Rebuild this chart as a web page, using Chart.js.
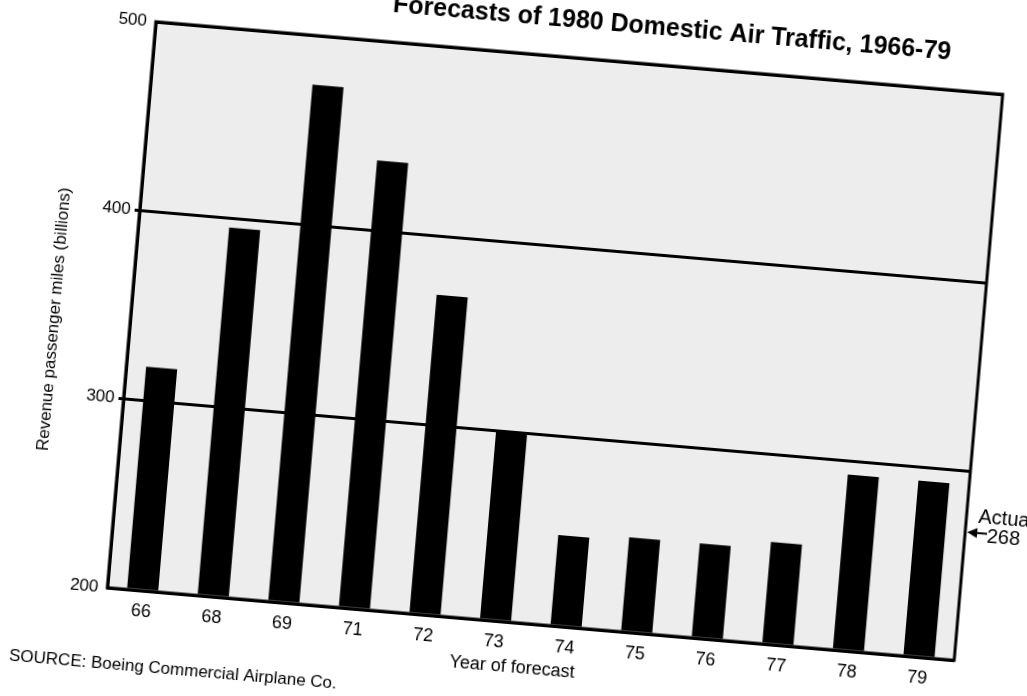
<!DOCTYPE html>
<html>
<head>
<meta charset="utf-8">
<script src="https://cdn.jsdelivr.net/npm/chart.js@4"></script>
<style>
  html, body { margin: 0; padding: 0; background: #fff; overflow: hidden; width: 1027px; height: 696px; }
  #wrap { position: absolute; left: 10px; top: -23px; width: 1100px; height: 760px;
          transform-origin: 545px 364px; transform: rotate(4.9deg); }
</style>
</head>
<body>
<div id="wrap"><canvas id="trafficChart" width="1100" height="760"></canvas></div>
<script>
// forecasts of 1980 domestic traffic, by year the forecast was made
const years = ["66", "68", "69", "71", "72", "73", "74", "75", "76", "77", "78", "79"];
const forecastMiles = [318, 395, 474, 437, 369, 300, 248, 250, 250, 254, 293, 293];
const yTicks = [200, 300, 400, 500];
const actualMiles = 268;

const FONT = '"Liberation Sans", Arial, Helvetica, sans-serif';

// texts and the frame round the plot
const paperPlugin = {
  id: "paper",
  beforeDraw(chart) {
    const { ctx, chartArea: a } = chart;
    ctx.save();
    ctx.fillStyle = "#ededed";
    ctx.fillRect(a.left, a.top, a.right - a.left, a.bottom - a.top);
    ctx.restore();
  },
  afterDraw(chart) {
    const { ctx, chartArea: a } = chart;
    const y = chart.scales.y;
    ctx.save();
    ctx.strokeStyle = "#000";
    ctx.lineWidth = 3;
    ctx.strokeRect(a.left, a.top, a.right - a.left, a.bottom - a.top);

    ctx.fillStyle = "#000";
    ctx.textBaseline = "alphabetic";

    // title
    ctx.font = "bold 25px " + FONT;
    ctx.textAlign = "right";
    ctx.fillText("Forecasts of 1980 Domestic Air Traffic, 1966-79", a.left + 795, a.top - 30);

    // axis titles
    ctx.font = "18px " + FONT;
    ctx.textAlign = "center";
    ctx.textBaseline = "middle";
    ctx.fillText("Year of forecast", a.left + 410, a.bottom + 45);

    ctx.save();
    ctx.translate(a.left - 76, a.top + 305);
    ctx.rotate(-Math.PI / 2);
    ctx.font = "17px " + FONT;
    ctx.fillText("Revenue passenger miles (billions)", 0, 0);
    ctx.restore();

    // source
    ctx.font = "17px " + FONT;
    ctx.textAlign = "left";
    ctx.fillText("SOURCE: Boeing Commercial Airplane Co.", a.left - 92, a.bottom + 76);

    // actual value marker
    const py = y.getPixelForValue(actualMiles);
    ctx.font = "20px " + FONT;
    ctx.fillText("Actual", a.right + 12, py - 16);
    ctx.fillText(String(actualMiles), a.right + 22, py + 3);
    ctx.lineWidth = 2;
    ctx.beginPath();
    ctx.moveTo(a.right + 22, py);
    ctx.lineTo(a.right + 8, py);
    ctx.stroke();
    ctx.beginPath();
    ctx.moveTo(a.right + 2, py);
    ctx.lineTo(a.right + 12, py - 5);
    ctx.lineTo(a.right + 12, py + 5);
    ctx.closePath();
    ctx.fill();
    ctx.restore();
  }
};

new Chart(document.getElementById("trafficChart").getContext("2d"), {
  type: "bar",
  data: {
    labels: years,
    datasets: [{
      data: forecastMiles,
      base: 200,
      backgroundColor: "#000",
      borderWidth: 0,
      barPercentage: 0.44,
      categoryPercentage: 1
    }]
  },
  options: {
    responsive: false,
    animation: false,
    layout: { padding: { left: 20, top: 80, right: 130, bottom: 72 } },
    plugins: { legend: { display: false }, tooltip: { enabled: false } },
    scales: {
      x: {
        grid: { display: false },
        border: { display: false },
        ticks: { color: "#000", font: { family: FONT, size: 18 }, padding: 2, maxRotation: 0 },
        afterFit: s => { s.height = 40; }
      },
      y: {
        min: 200,
        max: 500,
        afterBuildTicks: s => { s.ticks = yTicks.map(v => ({ value: v })); },
        grid: {
          color: "#000",
          lineWidth: 3,
          tickLength: 5,
          tickColor: c => (c.tick && (c.tick.value === 300 || c.tick.value === 400)) ? "#000" : "rgba(0,0,0,0)"
        },
        border: { display: true, color: "#000", width: 3 },
        ticks: { color: "#000", font: { family: FONT, size: 17 }, padding: 4 },
        afterFit: s => { s.width = 100; }
      }
    }
  },
  plugins: [paperPlugin]
});
</script>
</body>
</html>
